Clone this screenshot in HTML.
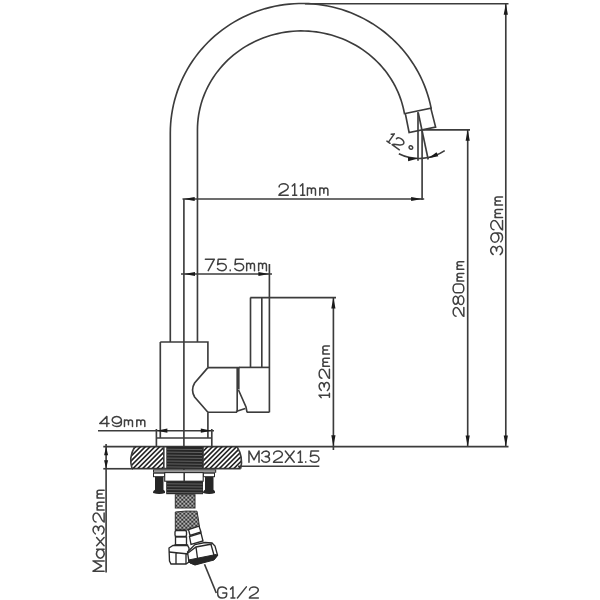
<!DOCTYPE html>
<html><head><meta charset="utf-8"><style>
html,body{margin:0;padding:0;background:#fff;width:600px;height:600px;overflow:hidden}
svg{display:block}
text{font-family:"Liberation Sans",sans-serif;fill:#2a2a2a;stroke:none}
</style></head><body>
<svg width="600" height="600" viewBox="0 0 600 600">
<g stroke="#3c3c3c" stroke-width="1.65" fill="none">
<path d="M 170.3 342 L 170.3 133.08 L 170.39 128.31 L 170.66 123.54 L 171.10 118.79 L 171.73 114.05 L 172.53 109.34 L 173.50 104.67 L 174.65 100.03 L 175.98 95.44 L 177.47 90.89 L 179.13 86.41 L 180.96 81.99 L 182.96 77.64 L 185.11 73.36 L 187.42 69.16 L 189.89 65.05 L 192.51 61.04 L 195.28 57.12 L 198.20 53.30 L 201.25 49.59 L 204.45 46.00 L 207.77 42.52 L 211.22 39.17 L 214.80 35.94 L 218.49 32.85 L 222.30 29.89 L 226.21 27.07 L 230.23 24.40 L 234.34 21.87 L 238.55 19.50 L 242.84 17.28 L 247.22 15.21 L 251.66 13.31 L 256.18 11.57 L 260.75 9.99 L 265.39 8.58 L 270.07 7.34 L 274.80 6.27 L 279.56 5.37 L 284.35 4.64 L 289.17 4.09 L 294.01 3.72 L 298.85 3.52 L 303.70 3.49 L 308.55 3.64 L 313.39 3.97 L 318.21 4.47 L 323.01 5.15 L 327.78 6.00 L 332.52 7.02 L 337.21 8.22 L 341.86 9.58 L 346.45 11.11 L 350.99 12.81 L 355.45 14.67 L 359.85 16.69 L 364.16 18.86 L 368.39 21.20 L 372.54 23.68 L 376.58 26.32 L 380.52 29.09 L 384.36 32.01 L 388.09 35.07 L 391.70 38.26 L 395.18 41.58 L 398.54 45.02 L 401.77 48.58 L 404.86 52.26 L 407.82 56.05 L 410.63 59.94 L 413.29 63.93 L 415.80 68.01 L 418.16 72.18 L 420.36 76.44 L 422.40 80.77 L 424.27 85.17 L 425.98 89.64 L 427.53 94.17 L 428.90 98.75 L 430.09 103.37 L 431.12 108.04 L 430.8 108.1" fill="none" />
<path d="M 197.46 342 L 197.46 129.85 L 197.53 126.17 L 197.75 122.50 L 198.11 118.83 L 198.61 115.18 L 199.26 111.56 L 200.05 107.95 L 200.97 104.38 L 202.04 100.84 L 203.25 97.34 L 204.59 93.89 L 206.07 90.49 L 207.68 87.14 L 209.42 83.85 L 211.28 80.63 L 213.27 77.47 L 215.39 74.38 L 217.62 71.38 L 219.97 68.45 L 222.44 65.61 L 225.01 62.86 L 227.69 60.20 L 230.47 57.63 L 233.35 55.17 L 236.32 52.81 L 239.39 50.55 L 242.54 48.41 L 245.77 46.38 L 249.08 44.46 L 252.47 42.67 L 255.92 40.99 L 259.43 39.44 L 263.01 38.01 L 266.63 36.71 L 270.31 35.53 L 274.03 34.49 L 277.78 33.58 L 281.57 32.81 L 285.39 32.16 L 289.23 31.66 L 293.09 31.29 L 296.96 31.05 L 300.83 30.95 L 304.71 30.99 L 308.58 31.17 L 312.45 31.48 L 316.29 31.93 L 320.12 32.51 L 323.92 33.23 L 327.70 34.09 L 331.43 35.07 L 335.13 36.19 L 338.77 37.44 L 342.37 38.81 L 345.91 40.31 L 349.39 41.94 L 352.80 43.68 L 356.14 45.55 L 359.41 47.53 L 362.60 49.63 L 365.70 51.83 L 368.71 54.15 L 371.63 56.57 L 374.46 59.09 L 377.18 61.71 L 379.80 64.42 L 382.31 67.23 L 384.71 70.12 L 386.99 73.09 L 389.16 76.15 L 391.20 79.27 L 393.12 82.47 L 394.92 85.73 L 396.58 89.05 L 398.12 92.43 L 399.52 95.87 L 400.78 99.35 L 401.91 102.87 L 402.89 106.42 L 403.74 110.02 L 404.45 113.63 L 405.3 113.5" fill="none" />
<path d="M 405.3 113.5 L 430.8 108.1 L 435.6 127.1 L 409.1 132.5 Z" fill="none" />
<line x1="418" y1="111.9" x2="418" y2="160.8"/>
<line x1="418.3" y1="113" x2="428.2" y2="159.5"/>
<line x1="422.1" y1="130.3" x2="422.1" y2="200"/>
<line x1="423" y1="129.8" x2="470" y2="129.8"/>
<path d="M 398.83 153.84 A 46 46 0 0 0 444.72 150.64" fill="none" />
<polygon points="418.00,158.50 408.12,161.20 407.90,156.80" fill="#1a1a1a" stroke="none"/>
<polygon points="428.30,158.30 436.52,152.19 438.32,156.20" fill="#1a1a1a" stroke="none"/>
<line x1="305" y1="3.7" x2="508.5" y2="3.7"/>
<line x1="505.8" y1="3.7" x2="505.8" y2="446.6"/>
<polygon points="505.80,3.70 507.90,14.70 503.70,14.70" fill="#1a1a1a" stroke="none"/>
<polygon points="505.80,446.60 503.70,435.60 507.90,435.60" fill="#1a1a1a" stroke="none"/>
<line x1="467.7" y1="129.8" x2="467.7" y2="446.6"/>
<polygon points="467.70,129.80 469.80,140.80 465.60,140.80" fill="#1a1a1a" stroke="none"/>
<polygon points="467.70,446.60 465.60,435.60 469.80,435.60" fill="#1a1a1a" stroke="none"/>
<line x1="182.5" y1="199" x2="424.2" y2="199"/>
<polygon points="183.70,199.00 194.70,196.90 194.70,201.10" fill="#1a1a1a" stroke="none"/>
<polygon points="422.10,199.00 411.10,201.10 411.10,196.90" fill="#1a1a1a" stroke="none"/>
<line x1="183.9" y1="199" x2="183.9" y2="481"/>
<line x1="181" y1="274" x2="272" y2="274"/>
<polygon points="184.00,274.00 195.00,271.90 195.00,276.10" fill="#1a1a1a" stroke="none"/>
<polygon points="269.40,274.00 258.40,276.10 258.40,271.90" fill="#1a1a1a" stroke="none"/>
<line x1="269.4" y1="264" x2="269.4" y2="412.3"/>
<line x1="250.3" y1="297.6" x2="336" y2="297.6"/>
<line x1="250.5" y1="297.6" x2="250.5" y2="367.3"/>
<line x1="261.8" y1="297.6" x2="261.8" y2="367.3"/>
<line x1="239" y1="367.4" x2="269.4" y2="367.4"/>
<line x1="246.7" y1="412.2" x2="269.4" y2="412.2"/>
<line x1="237.2" y1="368" x2="237.2" y2="411.8"/>
<line x1="238.8" y1="368" x2="238.8" y2="389.5"/>
<path d="M 238.5 390 L 246 407 L 247 412.2" fill="none" />
<path d="M 236 411.5 L 245.3 408.5" fill="none" />
<line x1="333.4" y1="297.6" x2="333.4" y2="450"/>
<polygon points="333.40,297.60 335.50,308.60 331.30,308.60" fill="#1a1a1a" stroke="none"/>
<polygon points="333.40,446.30 331.30,435.30 335.50,435.30" fill="#1a1a1a" stroke="none"/>
<path d="M 160.3 342 L 207.9 342 L 207.9 367.6 M 207.9 412.2 L 207.9 438 M 160.3 342 L 160.3 438" fill="none" />
<path d="M 207.9 367.6 L 239.5 367.6 M 207.9 412.2 L 237.2 412.2" fill="none" />
<path d="M 207.9 367.6 L 194.6 383 Q 190.5 390 194.6 397 L 207.9 412.2" fill="none" />
<line x1="98" y1="430.7" x2="214" y2="430.7"/>
<polygon points="156.40,430.70 167.40,428.60 167.40,432.80" fill="#1a1a1a" stroke="none"/>
<polygon points="211.80,430.70 200.80,432.80 200.80,428.60" fill="#1a1a1a" stroke="none"/>
<path d="M 156.4 429 L 156.4 446.4 M 211.8 429 L 211.8 446.4 M 156.4 438 L 211.8 438" fill="none" />
<line x1="103.3" y1="446.6" x2="508.5" y2="446.6"/>
<line x1="103.3" y1="468.75" x2="133" y2="468.75"/>
<line x1="132" y1="468.6" x2="240.7" y2="468.6"/>
<line x1="238" y1="466.2" x2="319.3" y2="466.2"/>
<defs><clipPath id="hl"><path d="M 134.7 446.6 L 164.0 446.6 L 164.0 468.6 L 132 468.6 Q 128.5 457.5 134.7 446.6 Z"/></clipPath><clipPath id="hr"><path d="M 203 446.6 L 237 446.6 Q 243.5 457 240.7 468.6 L 203 468.6 Z"/></clipPath><pattern id="mesh" width="4" height="4" patternUnits="userSpaceOnUse" x="175.3" y="494.7"><g stroke="none"><rect width="4" height="4" fill="#333"/><circle cx="1" cy="1" r="0.9" fill="#f0f0f0"/><circle cx="3" cy="3" r="0.9" fill="#f0f0f0"/></g></pattern></defs>
<g clip-path="url(#hl)"><path d="M -24.00 472 L 6.00 442 M -19.20 472 L 10.80 442 M -14.40 472 L 15.60 442 M -9.60 472 L 20.40 442 M -4.80 472 L 25.20 442 M 0.00 472 L 30.00 442 M 4.80 472 L 34.80 442 M 9.60 472 L 39.60 442 M 14.40 472 L 44.40 442 M 19.20 472 L 49.20 442 M 24.00 472 L 54.00 442 M 28.80 472 L 58.80 442 M 33.60 472 L 63.60 442 M 38.40 472 L 68.40 442 M 43.20 472 L 73.20 442 M 48.00 472 L 78.00 442 M 52.80 472 L 82.80 442 M 57.60 472 L 87.60 442 M 62.40 472 L 92.40 442 M 67.20 472 L 97.20 442 M 72.00 472 L 102.00 442 M 76.80 472 L 106.80 442 M 81.60 472 L 111.60 442 M 86.40 472 L 116.40 442 M 91.20 472 L 121.20 442 M 96.00 472 L 126.00 442 M 100.80 472 L 130.80 442 M 105.60 472 L 135.60 442 M 110.40 472 L 140.40 442 M 115.20 472 L 145.20 442 M 120.00 472 L 150.00 442 M 124.80 472 L 154.80 442 M 129.60 472 L 159.60 442 M 134.40 472 L 164.40 442 M 139.20 472 L 169.20 442 M 144.00 472 L 174.00 442 M 148.80 472 L 178.80 442 M 153.60 472 L 183.60 442 M 158.40 472 L 188.40 442 M 163.20 472 L 193.20 442 M 168.00 472 L 198.00 442 M 172.80 472 L 202.80 442 M 177.60 472 L 207.60 442 M 182.40 472 L 212.40 442 M 187.20 472 L 217.20 442 M 192.00 472 L 222.00 442 M 196.80 472 L 226.80 442 M 201.60 472 L 231.60 442 M 206.40 472 L 236.40 442 M 211.20 472 L 241.20 442 M 216.00 472 L 246.00 442 M 220.80 472 L 250.80 442 M 225.60 472 L 255.60 442 M 230.40 472 L 260.40 442 M 235.20 472 L 265.20 442 M 240.00 472 L 270.00 442 M 244.80 472 L 274.80 442 M 249.60 472 L 279.60 442 M 254.40 472 L 284.40 442 M 259.20 472 L 289.20 442 M 264.00 472 L 294.00 442 M 268.80 472 L 298.80 442 M 273.60 472 L 303.60 442 M 278.40 472 L 308.40 442 M 283.20 472 L 313.20 442 M 288.00 472 L 318.00 442 M 292.80 472 L 322.80 442 M 297.60 472 L 327.60 442 M 302.40 472 L 332.40 442 M 307.20 472 L 337.20 442" stroke-width="1.6" stroke="#222"/></g>
<g clip-path="url(#hr)"><path d="M -24.00 472 L 6.00 442 M -19.20 472 L 10.80 442 M -14.40 472 L 15.60 442 M -9.60 472 L 20.40 442 M -4.80 472 L 25.20 442 M 0.00 472 L 30.00 442 M 4.80 472 L 34.80 442 M 9.60 472 L 39.60 442 M 14.40 472 L 44.40 442 M 19.20 472 L 49.20 442 M 24.00 472 L 54.00 442 M 28.80 472 L 58.80 442 M 33.60 472 L 63.60 442 M 38.40 472 L 68.40 442 M 43.20 472 L 73.20 442 M 48.00 472 L 78.00 442 M 52.80 472 L 82.80 442 M 57.60 472 L 87.60 442 M 62.40 472 L 92.40 442 M 67.20 472 L 97.20 442 M 72.00 472 L 102.00 442 M 76.80 472 L 106.80 442 M 81.60 472 L 111.60 442 M 86.40 472 L 116.40 442 M 91.20 472 L 121.20 442 M 96.00 472 L 126.00 442 M 100.80 472 L 130.80 442 M 105.60 472 L 135.60 442 M 110.40 472 L 140.40 442 M 115.20 472 L 145.20 442 M 120.00 472 L 150.00 442 M 124.80 472 L 154.80 442 M 129.60 472 L 159.60 442 M 134.40 472 L 164.40 442 M 139.20 472 L 169.20 442 M 144.00 472 L 174.00 442 M 148.80 472 L 178.80 442 M 153.60 472 L 183.60 442 M 158.40 472 L 188.40 442 M 163.20 472 L 193.20 442 M 168.00 472 L 198.00 442 M 172.80 472 L 202.80 442 M 177.60 472 L 207.60 442 M 182.40 472 L 212.40 442 M 187.20 472 L 217.20 442 M 192.00 472 L 222.00 442 M 196.80 472 L 226.80 442 M 201.60 472 L 231.60 442 M 206.40 472 L 236.40 442 M 211.20 472 L 241.20 442 M 216.00 472 L 246.00 442 M 220.80 472 L 250.80 442 M 225.60 472 L 255.60 442 M 230.40 472 L 260.40 442 M 235.20 472 L 265.20 442 M 240.00 472 L 270.00 442 M 244.80 472 L 274.80 442 M 249.60 472 L 279.60 442 M 254.40 472 L 284.40 442 M 259.20 472 L 289.20 442 M 264.00 472 L 294.00 442 M 268.80 472 L 298.80 442 M 273.60 472 L 303.60 442 M 278.40 472 L 308.40 442 M 283.20 472 L 313.20 442 M 288.00 472 L 318.00 442 M 292.80 472 L 322.80 442 M 297.60 472 L 327.60 442 M 302.40 472 L 332.40 442 M 307.20 472 L 337.20 442" stroke-width="1.6" stroke="#222"/></g>
<path d="M 134.7 446.6 Q 128.5 457.5 132 468.6" fill="none" />
<path d="M 237 446.6 Q 243.5 457 240.7 468.6" fill="none" />
<line x1="163.8" y1="446.6" x2="163.8" y2="468.6"/>
<line x1="203" y1="446.6" x2="203" y2="468.6"/>
<rect x="166.3" y="446.6" width="36.5" height="22.0" fill="#262626" stroke="none"/>
<line x1="167" y1="449.2" x2="202" y2="449.6" stroke="#707070" stroke-width="0.8"/>
<line x1="167" y1="452.1" x2="202" y2="452.5" stroke="#707070" stroke-width="0.8"/>
<line x1="167" y1="455.1" x2="202" y2="455.5" stroke="#707070" stroke-width="0.8"/>
<line x1="167" y1="458.1" x2="202" y2="458.4" stroke="#707070" stroke-width="0.8"/>
<line x1="167" y1="461.0" x2="202" y2="461.4" stroke="#707070" stroke-width="0.8"/>
<line x1="167" y1="463.9" x2="202" y2="464.3" stroke="#707070" stroke-width="0.8"/>
<line x1="167" y1="466.9" x2="202" y2="467.3" stroke="#707070" stroke-width="0.8"/>
<line x1="106.1" y1="444" x2="106.1" y2="572.5"/>
<polygon points="106.10,446.70 108.10,455.30 104.10,455.30" fill="#1a1a1a" stroke="none"/>
<polygon points="106.10,468.75 104.10,460.15 108.10,460.15" fill="#1a1a1a" stroke="none"/>
<rect x="153.5" y="469.9" width="62.2" height="2.3" fill="#c8c8c8" stroke="#2a2a2a" stroke-width="1"/>
<rect x="153.5" y="473.2" width="11" height="3.5" fill="#fff" stroke="#2a2a2a" stroke-width="1"/>
<path d="M 155.0 476.7 L 163.5 476.7 L 163.5 489.7 Q 165.5 490.5 165.0 493 Q 159.5 495 153.0 493 Q 152.7 490.5 155.0 489.7 Z" fill="#262626" stroke="none"/>
<rect x="203.5" y="473.2" width="11" height="3.5" fill="#fff" stroke="#2a2a2a" stroke-width="1"/>
<path d="M 205.0 476.7 L 213.5 476.7 L 213.5 489.7 Q 215.5 490.5 215.0 493 Q 209.5 495 203.0 493 Q 202.7 490.5 205.0 489.7 Z" fill="#262626" stroke="none"/>
<rect x="164.7" y="472.6" width="38.5" height="8.6" fill="#fff" stroke="#2a2a2a" stroke-width="1.1"/>
<line x1="184.2" y1="472.6" x2="184.2" y2="481.2"/>
<rect x="166.2" y="481.2" width="36.8" height="13" fill="#262626" stroke="none"/>
<line x1="167" y1="483.8" x2="202.5" y2="484.1" stroke="#707070" stroke-width="0.8"/>
<line x1="167" y1="486.7" x2="202.5" y2="487.0" stroke="#707070" stroke-width="0.8"/>
<line x1="167" y1="489.6" x2="202.5" y2="489.9" stroke="#707070" stroke-width="0.8"/>
<line x1="167" y1="492.5" x2="202.5" y2="492.8" stroke="#707070" stroke-width="0.8"/>
<rect x="175.3" y="494.7" width="19.7" height="13.3" fill="url(#mesh)" stroke="#333" stroke-width="1"/>
<path d="M 175.3 512 Q 186 510.5 197 511.2 L 198.5 520 L 199.5 527 L 188.5 530 L 175.3 530 Z" fill="url(#mesh)" stroke="#333" stroke-width="1"/>
<g fill="#fff" stroke="#2a2a2a" stroke-width="1.35">
<rect x="175" y="530.5" width="11.5" height="6" rx="1.5"/>
<rect x="175.5" y="537" width="11" height="8"/>
<rect x="175" y="545" width="12.5" height="3"/>
<path d="M 169 548 L 173 545.5 L 187.5 545.5 L 189 548 L 189 562 L 186 564 L 171 564 L 169.5 561 Z"/>
<path d="M 169 552 L 188.5 554 M 176 553 L 176 564 M 186 554 L 186 564" fill="none"/>
<path d="M 188.5 529.5 L 199 526 L 201 532 L 190 535.5 Z"/>
<path d="M 189.5 536.5 L 201 533 L 203 541 L 191 544.5 Z"/>
<path d="M 187.5 552 L 195 544.5 L 205 542.5 L 212 543 L 215 546 L 217.5 555 L 215 558 L 195 564.5 L 189 562 Z"/>
<path d="M 188 553 L 196 547 L 212 544 M 196 547 L 198 562 M 211 544.5 L 214.5 557" fill="none"/>
</g>
<path d="M 188.5 560 L 216 554.5 L 217.5 555.5 L 214 560 L 195 565 L 190 563 Z" fill="#262626" stroke="#262626" stroke-width="1"/>
<line x1="204.5" y1="564.3" x2="216.3" y2="593"/>
<g transform="translate(278.925 195.325)" stroke="#404040" stroke-width="1.5" fill="none" stroke-linecap="round" stroke-linejoin="round">
<path transform="translate(0.000 -11.65) scale(1.5491 1.4563)" vector-effect="non-scaling-stroke" d="M 0.1 2.2 A 2.95 2.2 0 0 1 6 2.3 Q 6 3.9 3.2 5.4 Q 0.1 7 0 8 L 6 8"/>
<path transform="translate(12.392 -11.65) scale(1.5491 1.4563)" vector-effect="non-scaling-stroke" d="M 0.6 1.6 L 2.2 0 L 2.2 8 M 0.9 8 L 3.5 8"/>
<path transform="translate(20.447 -11.65) scale(1.5491 1.4563)" vector-effect="non-scaling-stroke" d="M 0.6 1.6 L 2.2 0 L 2.2 8 M 0.9 8 L 3.5 8"/>
<path transform="translate(28.503 -11.65) scale(1.5491 1.4563)" vector-effect="non-scaling-stroke" d="M 0 8 L 0 2.9 M 0 4.4 A 1.3 1.5 0 0 1 2.6 4.4 L 2.6 6.6 M 2.6 4.4 A 1.3 1.5 0 0 1 5.2 4.4 L 5.2 8"/>
<path transform="translate(40.895 -11.65) scale(1.5491 1.4563)" vector-effect="non-scaling-stroke" d="M 0 8 L 0 2.9 M 0 4.4 A 1.3 1.5 0 0 1 2.6 4.4 L 2.6 6.6 M 2.6 4.4 A 1.3 1.5 0 0 1 5.2 4.4 L 5.2 8"/>
</g>
<g transform="translate(205.375 270.625)" stroke="#404040" stroke-width="1.5" fill="none" stroke-linecap="round" stroke-linejoin="round">
<path transform="translate(0.000 -11.450000000000001) scale(1.4963 1.4313)" vector-effect="non-scaling-stroke" d="M 0 0 L 6 0 L 1.9 8"/>
<path transform="translate(11.971 -11.450000000000001) scale(1.4963 1.4313)" vector-effect="non-scaling-stroke" d="M 5.7 0 L 0.6 0 L 0.2 3.9 Q 1.4 3.0 3 3.0 A 3 2.5 0 0 1 3 8 Q 1 8 0.1 6.6"/>
<path transform="translate(23.941 -11.450000000000001) scale(1.4963 1.4313)" vector-effect="non-scaling-stroke" d="M 0.6 7.6 L 0.6 8"/>
<path transform="translate(29.328 -11.450000000000001) scale(1.4963 1.4313)" vector-effect="non-scaling-stroke" d="M 5.7 0 L 0.6 0 L 0.2 3.9 Q 1.4 3.0 3 3.0 A 3 2.5 0 0 1 3 8 Q 1 8 0.1 6.6"/>
<path transform="translate(41.299 -11.450000000000001) scale(1.4963 1.4313)" vector-effect="non-scaling-stroke" d="M 0 8 L 0 2.9 M 0 4.4 A 1.3 1.5 0 0 1 2.6 4.4 L 2.6 6.6 M 2.6 4.4 A 1.3 1.5 0 0 1 5.2 4.4 L 5.2 8"/>
<path transform="translate(53.269 -11.450000000000001) scale(1.4963 1.4313)" vector-effect="non-scaling-stroke" d="M 0 8 L 0 2.9 M 0 4.4 A 1.3 1.5 0 0 1 2.6 4.4 L 2.6 6.6 M 2.6 4.4 A 1.3 1.5 0 0 1 5.2 4.4 L 5.2 8"/>
</g>
<g transform="translate(99.77499999999999 426.425)" stroke="#404040" stroke-width="1.5" fill="none" stroke-linecap="round" stroke-linejoin="round">
<path transform="translate(0.000 -10.05) scale(1.5428 1.2563)" vector-effect="non-scaling-stroke" d="M 4.6 8 L 4.6 0 L 0 5.6 L 6 5.6"/>
<path transform="translate(12.342 -10.05) scale(1.5428 1.2563)" vector-effect="non-scaling-stroke" d="M 6 2.7 A 3 2.7 0 1 0 6 3.0 L 6 5.4 Q 6 8 3 8 Q 1 8 0.3 6.8"/>
<path transform="translate(24.685 -10.05) scale(1.5428 1.2563)" vector-effect="non-scaling-stroke" d="M 0 8 L 0 2.9 M 0 4.4 A 1.3 1.5 0 0 1 2.6 4.4 L 2.6 6.6 M 2.6 4.4 A 1.3 1.5 0 0 1 5.2 4.4 L 5.2 8"/>
<path transform="translate(37.027 -10.05) scale(1.5428 1.2563)" vector-effect="non-scaling-stroke" d="M 0 8 L 0 2.9 M 0 4.4 A 1.3 1.5 0 0 1 2.6 4.4 L 2.6 6.6 M 2.6 4.4 A 1.3 1.5 0 0 1 5.2 4.4 L 5.2 8"/>
</g>
<g transform="translate(329.425 398.525) rotate(-90)" stroke="#404040" stroke-width="1.5" fill="none" stroke-linecap="round" stroke-linejoin="round">
<path transform="translate(0.000 -10.35) scale(1.5276 1.2937)" vector-effect="non-scaling-stroke" d="M 0.6 1.6 L 2.2 0 L 2.2 8 M 0.9 8 L 3.5 8"/>
<path transform="translate(7.944 -10.35) scale(1.5276 1.2937)" vector-effect="non-scaling-stroke" d="M 0.1 1.7 Q 1 0 3 0 A 2.8 2 0 0 1 2.4 3.95 A 3 2.05 0 0 1 3 8 Q 0.9 8 0 6.4"/>
<path transform="translate(20.165 -10.35) scale(1.5276 1.2937)" vector-effect="non-scaling-stroke" d="M 0.1 2.2 A 2.95 2.2 0 0 1 6 2.3 Q 6 3.9 3.2 5.4 Q 0.1 7 0 8 L 6 8"/>
<path transform="translate(32.385 -10.35) scale(1.5276 1.2937)" vector-effect="non-scaling-stroke" d="M 0 8 L 0 2.9 M 0 4.4 A 1.3 1.5 0 0 1 2.6 4.4 L 2.6 6.6 M 2.6 4.4 A 1.3 1.5 0 0 1 5.2 4.4 L 5.2 8"/>
<path transform="translate(44.606 -10.35) scale(1.5276 1.2937)" vector-effect="non-scaling-stroke" d="M 0 8 L 0 2.9 M 0 4.4 A 1.3 1.5 0 0 1 2.6 4.4 L 2.6 6.6 M 2.6 4.4 A 1.3 1.5 0 0 1 5.2 4.4 L 5.2 8"/>
</g>
<g transform="translate(463.825 316.325) rotate(-90)" stroke="#404040" stroke-width="1.5" fill="none" stroke-linecap="round" stroke-linejoin="round">
<path transform="translate(0.000 -10.75) scale(1.4691 1.3438)" vector-effect="non-scaling-stroke" d="M 0.1 2.2 A 2.95 2.2 0 0 1 6 2.3 Q 6 3.9 3.2 5.4 Q 0.1 7 0 8 L 6 8"/>
<path transform="translate(11.753 -10.75) scale(1.4691 1.3438)" vector-effect="non-scaling-stroke" d="M 3 3.8 A 2.7 1.9 0 1 1 3 0 A 2.7 1.9 0 1 1 3 3.8 A 3 2.1 0 1 1 3 8 A 3 2.1 0 1 1 3 3.8 Z"/>
<path transform="translate(23.505 -10.75) scale(1.4691 1.3438)" vector-effect="non-scaling-stroke" d="M 0 2.3 A 3 2.3 0 0 1 6 2.3 L 6 5.7 A 3 2.3 0 0 1 0 5.7 Z"/>
<path transform="translate(35.258 -10.75) scale(1.4691 1.3438)" vector-effect="non-scaling-stroke" d="M 0 8 L 0 2.9 M 0 4.4 A 1.3 1.5 0 0 1 2.6 4.4 L 2.6 6.6 M 2.6 4.4 A 1.3 1.5 0 0 1 5.2 4.4 L 5.2 8"/>
<path transform="translate(47.011 -10.75) scale(1.4691 1.3438)" vector-effect="non-scaling-stroke" d="M 0 8 L 0 2.9 M 0 4.4 A 1.3 1.5 0 0 1 2.6 4.4 L 2.6 6.6 M 2.6 4.4 A 1.3 1.5 0 0 1 5.2 4.4 L 5.2 8"/>
</g>
<g transform="translate(502.525 254.625) rotate(-90)" stroke="#404040" stroke-width="1.5" fill="none" stroke-linecap="round" stroke-linejoin="round">
<path transform="translate(0.000 -11.85) scale(1.5470 1.4812)" vector-effect="non-scaling-stroke" d="M 0.1 1.7 Q 1 0 3 0 A 2.8 2 0 0 1 2.4 3.95 A 3 2.05 0 0 1 3 8 Q 0.9 8 0 6.4"/>
<path transform="translate(12.376 -11.85) scale(1.5470 1.4812)" vector-effect="non-scaling-stroke" d="M 6 2.7 A 3 2.7 0 1 0 6 3.0 L 6 5.4 Q 6 8 3 8 Q 1 8 0.3 6.8"/>
<path transform="translate(24.753 -11.85) scale(1.5470 1.4812)" vector-effect="non-scaling-stroke" d="M 0.1 2.2 A 2.95 2.2 0 0 1 6 2.3 Q 6 3.9 3.2 5.4 Q 0.1 7 0 8 L 6 8"/>
<path transform="translate(37.129 -11.85) scale(1.5470 1.4812)" vector-effect="non-scaling-stroke" d="M 0 8 L 0 2.9 M 0 4.4 A 1.3 1.5 0 0 1 2.6 4.4 L 2.6 6.6 M 2.6 4.4 A 1.3 1.5 0 0 1 5.2 4.4 L 5.2 8"/>
<path transform="translate(49.505 -11.85) scale(1.5470 1.4812)" vector-effect="non-scaling-stroke" d="M 0 8 L 0 2.9 M 0 4.4 A 1.3 1.5 0 0 1 2.6 4.4 L 2.6 6.6 M 2.6 4.4 A 1.3 1.5 0 0 1 5.2 4.4 L 5.2 8"/>
</g>
<g transform="translate(248.97500000000002 462.325)" stroke="#404040" stroke-width="1.5" fill="none" stroke-linecap="round" stroke-linejoin="round">
<path transform="translate(0.000 -11.35) scale(1.4778 1.4187)" vector-effect="non-scaling-stroke" d="M 0 8 L 0 0 L 3.4 6.2 L 6.8 0 L 6.8 8"/>
<path transform="translate(12.709 -11.35) scale(1.4778 1.4187)" vector-effect="non-scaling-stroke" d="M 0.1 1.7 Q 1 0 3 0 A 2.8 2 0 0 1 2.4 3.95 A 3 2.05 0 0 1 3 8 Q 0.9 8 0 6.4"/>
<path transform="translate(24.532 -11.35) scale(1.4778 1.4187)" vector-effect="non-scaling-stroke" d="M 0.1 2.2 A 2.95 2.2 0 0 1 6 2.3 Q 6 3.9 3.2 5.4 Q 0.1 7 0 8 L 6 8"/>
<path transform="translate(36.355 -11.35) scale(1.4778 1.4187)" vector-effect="non-scaling-stroke" d="M 0 0 L 6 8 M 6 0 L 0 8"/>
<path transform="translate(48.178 -11.35) scale(1.4778 1.4187)" vector-effect="non-scaling-stroke" d="M 0.6 1.6 L 2.2 0 L 2.2 8 M 0.9 8 L 3.5 8"/>
<path transform="translate(55.863 -11.35) scale(1.4778 1.4187)" vector-effect="non-scaling-stroke" d="M 0.6 7.6 L 0.6 8"/>
<path transform="translate(61.183 -11.35) scale(1.4778 1.4187)" vector-effect="non-scaling-stroke" d="M 5.7 0 L 0.6 0 L 0.2 3.9 Q 1.4 3.0 3 3.0 A 3 2.5 0 0 1 3 8 Q 1 8 0.1 6.6"/>
</g>
<g transform="translate(104.125 571.125) rotate(-90)" stroke="#404040" stroke-width="1.5" fill="none" stroke-linecap="round" stroke-linejoin="round">
<path transform="translate(0.000 -11.15) scale(1.5046 1.3938)" vector-effect="non-scaling-stroke" d="M 0 8 L 0 0 L 3.4 6.2 L 6.8 0 L 6.8 8"/>
<path transform="translate(12.940 -11.15) scale(1.5046 1.3938)" vector-effect="non-scaling-stroke" d="M 6 2.6 L 6 8 M 6 5.25 A 3 2.75 0 1 0 6 5.3"/>
<path transform="translate(24.977 -11.15) scale(1.5046 1.3938)" vector-effect="non-scaling-stroke" d="M 0.3 2.6 L 5.7 8 M 5.7 2.6 L 0.3 8"/>
<path transform="translate(37.014 -11.15) scale(1.5046 1.3938)" vector-effect="non-scaling-stroke" d="M 0.1 1.7 Q 1 0 3 0 A 2.8 2 0 0 1 2.4 3.95 A 3 2.05 0 0 1 3 8 Q 0.9 8 0 6.4"/>
<path transform="translate(49.051 -11.15) scale(1.5046 1.3938)" vector-effect="non-scaling-stroke" d="M 0.1 2.2 A 2.95 2.2 0 0 1 6 2.3 Q 6 3.9 3.2 5.4 Q 0.1 7 0 8 L 6 8"/>
<path transform="translate(61.089 -11.15) scale(1.5046 1.3938)" vector-effect="non-scaling-stroke" d="M 0 8 L 0 2.9 M 0 4.4 A 1.3 1.5 0 0 1 2.6 4.4 L 2.6 6.6 M 2.6 4.4 A 1.3 1.5 0 0 1 5.2 4.4 L 5.2 8"/>
<path transform="translate(73.126 -11.15) scale(1.5046 1.3938)" vector-effect="non-scaling-stroke" d="M 0 8 L 0 2.9 M 0 4.4 A 1.3 1.5 0 0 1 2.6 4.4 L 2.6 6.6 M 2.6 4.4 A 1.3 1.5 0 0 1 5.2 4.4 L 5.2 8"/>
</g>
<g transform="translate(217.675 598.0250000000001)" stroke="#404040" stroke-width="1.5" fill="none" stroke-linecap="round" stroke-linejoin="round">
<path transform="translate(0.000 -11.15) scale(1.4945 1.3938)" vector-effect="non-scaling-stroke" d="M 5.9 1.6 Q 5.2 0 3 0 Q 0 0 0 3.2 L 0 4.8 Q 0 8 3 8 Q 6 8 6 5.4 L 6 4.4 L 3.4 4.4"/>
<path transform="translate(11.956 -11.15) scale(1.4945 1.3938)" vector-effect="non-scaling-stroke" d="M 0.6 1.6 L 2.2 0 L 2.2 8 M 0.9 8 L 3.5 8"/>
<path transform="translate(19.727 -11.15) scale(1.4945 1.3938)" vector-effect="non-scaling-stroke" d="M 0 8 L 6 0"/>
<path transform="translate(31.683 -11.15) scale(1.4945 1.3938)" vector-effect="non-scaling-stroke" d="M 0.1 2.2 A 2.95 2.2 0 0 1 6 2.3 Q 6 3.9 3.2 5.4 Q 0.1 7 0 8 L 6 8"/>
</g>
<g transform="translate(385.825 140.325) rotate(35)" stroke="#404040" stroke-width="1.5" fill="none" stroke-linecap="round" stroke-linejoin="round">
<path transform="translate(0.000 -10.15) scale(1.4760 1.2688)" vector-effect="non-scaling-stroke" d="M 0.6 1.6 L 2.2 0 L 2.2 8 M 0.9 8 L 3.5 8"/>
<path transform="translate(7.675 -10.15) scale(1.4760 1.2688)" vector-effect="non-scaling-stroke" d="M 0.1 2.2 A 2.95 2.2 0 0 1 6 2.3 Q 6 3.9 3.2 5.4 Q 0.1 7 0 8 L 6 8"/>
<path transform="translate(19.484 -10.15) scale(1.4760 1.2688)" vector-effect="non-scaling-stroke" d="M 2.2 1.3 A 1.3 1.3 0 1 1 2.2 1.31"/>
</g>
</g>
</svg>
</body></html>
